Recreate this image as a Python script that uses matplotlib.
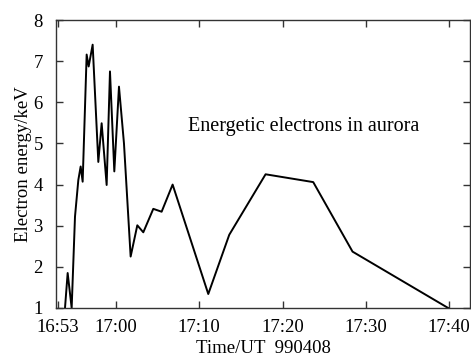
import matplotlib
matplotlib.use("Agg")
import matplotlib.pyplot as plt

plt.rcParams['font.family'] = ['Liberation Serif', 'DejaVu Serif']

# minutes relative to 17:00 UT
minutes = [-6.12, -5.8, -5.32, -4.92, -4.52, -4.24, -4.0, -3.52, -3.28, -2.8,
           -2.12, -1.72, -1.12, -0.72, -0.2, 0.36, 0.96, 1.76, 2.56, 3.28,
           4.48, 5.48, 6.8, 11.08, 13.6, 17.96, 23.68, 28.4, 39.88]
energy_kev = [1.0, 1.85, 1.0, 3.22, 4.11, 4.44, 4.07, 7.16, 6.87, 7.4,
              4.55, 5.49, 3.99, 6.75, 4.32, 6.38, 5.0, 2.25, 3.01, 2.84,
              3.41, 3.34, 4.0, 1.34, 2.78, 4.25, 4.06, 2.37, 1.0]

xtick_pos = [-7, 0, 10, 20, 30, 40]
xtick_labels = ['16:53', '17:00', '17:10', '17:20', '17:30', '17:40']
ytick_pos = [1, 2, 3, 4, 5, 6, 7, 8]

fig = plt.figure(figsize=(4.71, 3.59), dpi=100)
ax = fig.add_axes([56/471, 1-308/359, (470-56)/471, (308-20)/359])
ax.plot(minutes, energy_kev, color='black', lw=1.4)
ax.set_xlim(-7.2, 42.5)
ax.set_ylim(1, 8)
ax.set_xticks(xtick_pos)
ax.set_xticklabels(xtick_labels)
ax.set_yticks(ytick_pos)
ax.tick_params(direction='in', top=True, right=True, length=5, width=1,
               labelsize=13.5, color='#333333')
ax.tick_params(axis='x', pad=8)
ax.tick_params(axis='y', pad=9.5)
for s in ax.spines.values():
    s.set_linewidth(1.0)
    s.set_color('#333333')
ax.set_xlabel('Time/UT  990408', fontsize=13.5, labelpad=3)
ax.set_ylabel('Electron energy/keV', fontsize=13.5, labelpad=1)
ax.text(0.318, 0.63, 'Energetic electrons in aurora', transform=ax.transAxes,
        fontsize=14.5, ha='left', va='center')
fig.savefig('out.png', dpi=100)
